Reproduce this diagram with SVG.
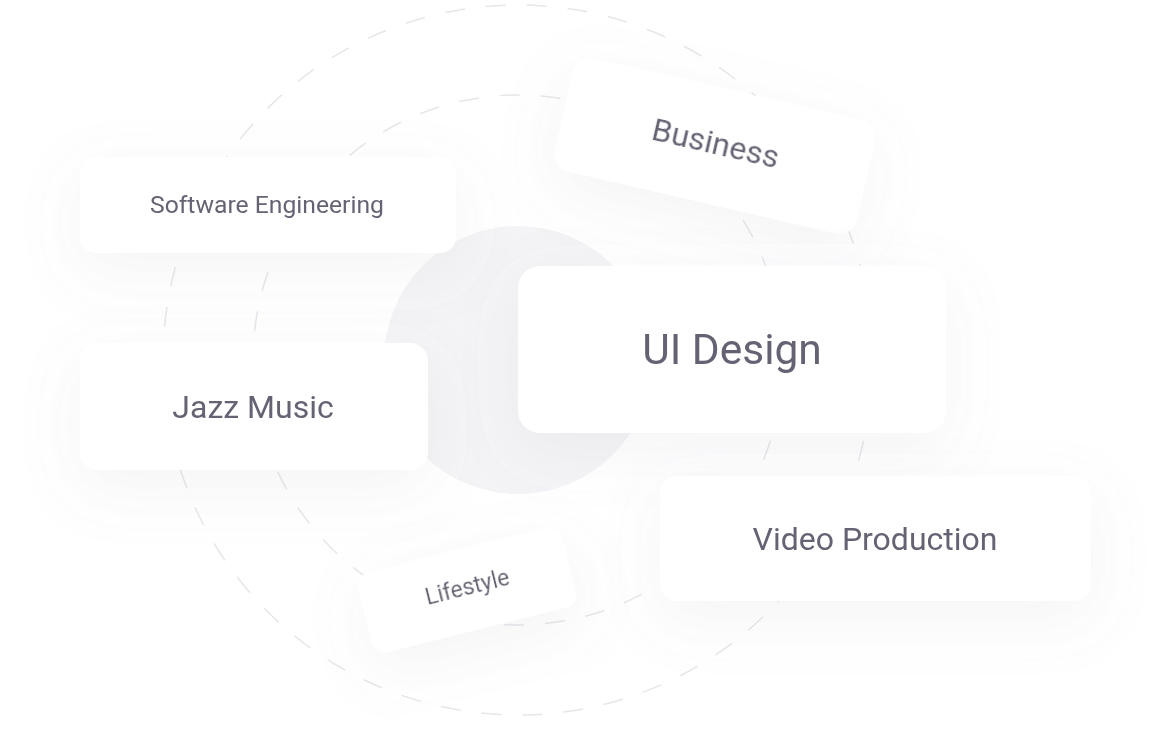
<svg xmlns="http://www.w3.org/2000/svg" width="1168" height="735" viewBox="0 0 1168 735">
  <defs>
    <filter id="soft" x="-40%" y="-80%" width="180%" height="260%">
      <feDropShadow dx="0" dy="18" stdDeviation="30" flood-color="#8a8fa3" flood-opacity="0.09"/>
    </filter>
  </defs>
  <style>
    .card { fill: #ffffff; }
    .dash { fill: none; stroke: #e6e7ea; stroke-width: 1.5; stroke-dasharray: 20 21; }
    .lbl { font-family: Roboto, "Liberation Sans", sans-serif; fill: #656473; text-anchor: middle; }
  </style>
  <rect width="1168" height="735" fill="#ffffff"/>

  <g id="connectors">
    <circle cx="518" cy="360" r="134" fill="#f4f4f6"/>
    <circle class="dash" cx="518" cy="360" r="355"/>
    <circle class="dash" cx="518" cy="360" r="265"/>
  </g>

  <g id="node-business" filter="url(#soft)" transform="translate(715,146) rotate(13)">
    <rect class="card" x="-155" y="-58" width="310" height="116" rx="18"/>
    <text class="lbl" x="0" y="8" font-size="32">Business</text>
  </g>

  <g id="node-software" filter="url(#soft)">
    <rect class="card" x="80" y="157" width="376" height="96" rx="16"/>
    <text class="lbl" x="267" y="213" font-size="24.7">Software Engineering</text>
  </g>

  <g id="node-jazz" filter="url(#soft)">
    <rect class="card" x="80" y="343" width="348" height="127" rx="18"/>
    <text class="lbl" x="253" y="418" font-size="32">Jazz Music</text>
  </g>

  <g id="node-ui" filter="url(#soft)">
    <rect class="card" x="518" y="266" width="428" height="167" rx="22"/>
    <text class="lbl" x="732" y="364" font-size="42.5">UI Design</text>
  </g>

  <g id="node-video" filter="url(#soft)">
    <rect class="card" x="660" y="476" width="431" height="125" rx="18"/>
    <text class="lbl" x="875" y="550" font-size="32">Video Production</text>
  </g>

  <g id="node-lifestyle" filter="url(#soft)" transform="translate(467,590) rotate(-14)">
    <rect class="card" x="-105" y="-41" width="210" height="82" rx="14"/>
    <text class="lbl" x="1" y="5" font-size="23">Lifestyle</text>
  </g>
</svg>
